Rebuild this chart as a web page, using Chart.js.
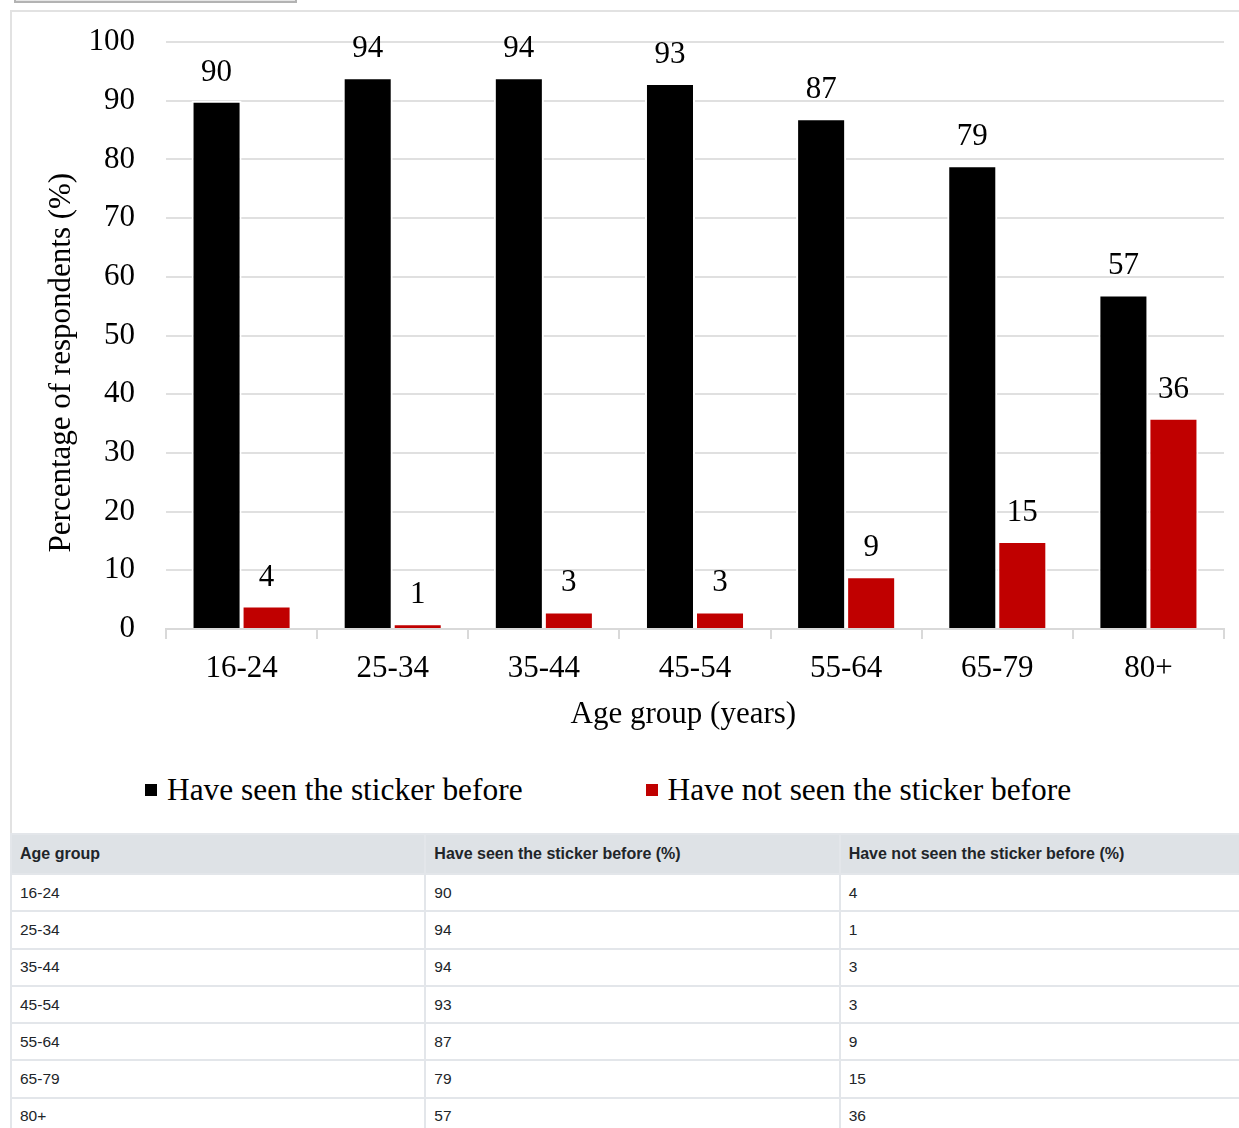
<!DOCTYPE html>
<html>
<head>
<meta charset="utf-8">
<script src="https://cdn.jsdelivr.net/npm/chart.js@4.4.0/dist/chart.umd.min.js"></script>
<style>
    html, body {
        margin: 0;
        padding: 0;
        width: 1239px;
        height: 1128px;
        overflow: hidden;
        background: #ffffff;
    }
    body { position: relative; }
    .top-btn {
        position: absolute;
        left: 14px;
        top: -20px;
        width: 279px;
        height: 19px;
        background: #e6e6e6;
        border: 2px solid #b3b3b3;
    }
    .figure {
        position: absolute;
        left: 10px;
        top: 10px;
        width: 1260px;
        height: 1200px;
        border: 2px solid #e2e2e2;
        box-sizing: border-box;
    }
    .chart-box {
        position: absolute;
        left: 12px;
        top: 12px;
        width: 1227px;
        height: 728px;
    }
    .chart-legend {
        position: absolute;
        left: 145px;
        top: 770px;
        height: 40px;
        display: flex;
        align-items: center;
        font-family: "Liberation Serif", "Times New Roman", serif;
        font-size: 31.4px;
        color: #000;
    }
    .legend-item {
        display: flex;
        align-items: center;
        margin-right: 123px;
        white-space: nowrap;
    }
    .legend-color {
        display: inline-block;
        width: 12px;
        height: 12px;
        margin-right: 10px;
    }
    table.data-table {
        position: absolute;
        left: 10px;
        top: 833px;
        width: 1245px;
        border-collapse: collapse;
        font-family: "Liberation Sans", Arial, sans-serif;
        font-size: 15.5px;
        color: #212529;
        table-layout: fixed;
    }
    .data-table th, .data-table td {
        border: 2px solid #e3e6ea;
        padding: 0 8px;
        text-align: left;
        vertical-align: middle;
    }
    .data-table th {
        background: #dee2e6;
        font-weight: bold;
        font-size: 16px;
        height: 38px;
    }
    .data-table td { height: 35.3px; }
</style>
</head>
<body>
<div class="top-btn"></div>
<div class="figure"></div>
<div class="chart-box"><canvas id="sticker-chart" width="1227" height="728"></canvas></div>
<div class="chart-legend" id="chart-legend"></div>
<table class="data-table" id="data-table"></table>

<script>
// Survey: seen the sticker before, by age group
const ageGroups = ['16-24', '25-34', '35-44', '45-54', '55-64', '65-79', '80+'];
const seenBefore = [90, 94, 94, 93, 87, 79, 57];
const notSeenBefore = [4, 1, 3, 3, 9, 15, 36];
const yTicks = [0, 10, 20, 30, 40, 50, 60, 70, 80, 90, 100];

const seriesNames = ['Have seen the sticker before', 'Have not seen the sticker before'];
const seriesColors = ['#000000', '#c00000'];

const SERIF = '"Liberation Serif", "Times New Roman", serif';
const GRID = '#e0e0e0';
const AXIS = '#d9d9d9';

// value labels above each bar
const barLabels = {
    id: 'barLabels',
    afterDatasetsDraw(chart) {
        const ctx = chart.ctx;
        ctx.save();
        ctx.font = '31px ' + SERIF;
        ctx.fillStyle = '#000';
        ctx.textAlign = 'center';
        ctx.textBaseline = 'alphabetic';
        chart.data.datasets.forEach((ds, i) => {
            chart.getDatasetMeta(i).data.forEach((bar, j) => {
                ctx.fillText(String(ds.data[j]), bar.x, bar.y - 20);
            });
        });
        ctx.restore();
    }
};

function renderLegend(datasets) {
    document.getElementById('chart-legend').innerHTML = datasets.map(ds => `
        <div class="legend-item">
            <span class="legend-color" style="background-color: ${ds.backgroundColor};"></span>
            <span class="legend-label">${ds.label}</span>
        </div>
    `).join('');
}

function renderTable() {
    const head = `<tr><th>Age group</th><th>${seriesNames[0]} (%)</th><th>${seriesNames[1]} (%)</th></tr>`;
    const rows = ageGroups.map((g, i) =>
        `<tr><td>${g}</td><td>${seenBefore[i]}</td><td>${notSeenBefore[i]}</td></tr>`
    ).join('');
    document.getElementById('data-table').innerHTML = head + rows;
}

const datasets = [
    { label: seriesNames[0], data: seenBefore, backgroundColor: seriesColors[0] },
    { label: seriesNames[1], data: notSeenBefore, backgroundColor: seriesColors[1] }
].map(ds => Object.assign(ds, {
    borderColor: '#ffffff',
    borderWidth: 2,
    categoryPercentage: 0.662,
    barPercentage: 1.0
}));

const ctx = document.getElementById('sticker-chart').getContext('2d');
new Chart(ctx, {
    type: 'bar',
    data: { labels: ageGroups, datasets: datasets },
    options: {
        responsive: false,
        animation: false,
        layout: { padding: { top: 30, right: 15, bottom: 0, left: 0 } },
        plugins: {
            legend: { display: false }, // HTML legend below
            tooltip: { enabled: false }
        },
        scales: {
            x: {
                afterFit: (scale) => { scale.height = 111; },
                grid: {
                    drawOnChartArea: false,
                    drawTicks: true,
                    tickLength: 10,
                    color: AXIS,
                    lineWidth: 2
                },
                border: { display: true, color: AXIS, width: 2 },
                ticks: {
                    color: '#000',
                    padding: 11,
                    font: { family: SERIF, size: 31 }
                },
                title: {
                    display: true,
                    // trailing spaces pull the title a bit left, as in the original
                    text: 'Age group (years)\u00a0\u00a0\u00a0',
                    color: '#000',
                    font: { family: SERIF, size: 31 },
                    padding: { top: 0, bottom: 7 }
                }
            },
            y: {
                min: 0,
                max: 100,
                afterFit: (scale) => {
                    scale.width = 154;
                    // tick padding should not push the plot down
                    scale.paddingTop = 0;
                    scale.paddingBottom = 0;
                },
                afterBuildTicks: (scale) => {
                    scale.ticks = yTicks.map(v => ({ value: v }));
                },
                grid: {
                    drawTicks: false,
                    color: GRID,
                    lineWidth: 2
                },
                border: { display: false },
                ticks: {
                    color: '#000',
                    padding: 31,
                    font: { family: SERIF, size: 31 }
                },
                title: {
                    display: true,
                    // trailing spaces push the rotated title lower, as in the original
                    text: 'Percentage of respondents (%)' + '\u00a0'.repeat(7),
                    color: '#000',
                    font: { family: SERIF, size: 31 },
                    padding: { top: 31, bottom: 0 }
                }
            }
        }
    },
    plugins: [barLabels]
});

renderLegend(datasets);
renderTable();
</script>
</body>
</html>
